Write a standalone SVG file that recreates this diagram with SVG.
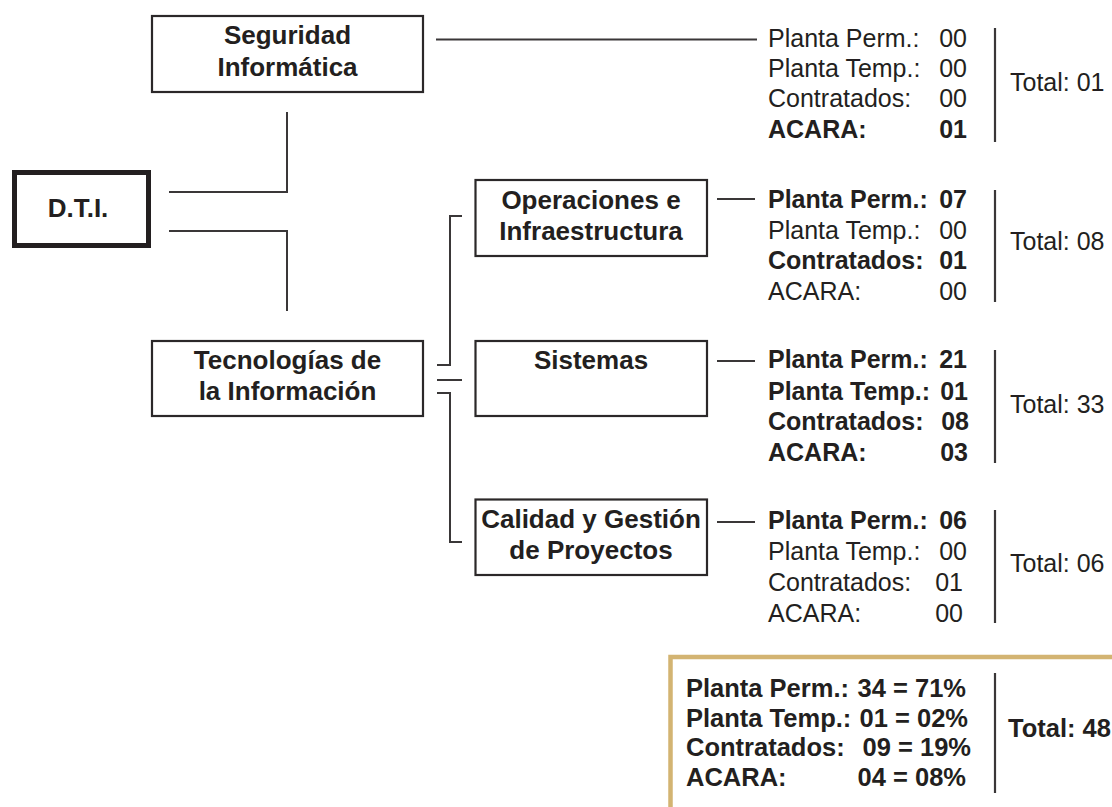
<svg xmlns="http://www.w3.org/2000/svg" width="1112" height="807" viewBox="0 0 1112 807">
<style>
.box{fill:#fff;stroke:#2b2829;stroke-width:2.2}
.ln{fill:none;stroke:#3a3738;stroke-width:2}
.bar{stroke:#3a3738;stroke-width:2.2}
.bt{font-family:"Liberation Sans",Arial,sans-serif;font-weight:bold;font-size:26px;fill:#231f20;text-anchor:middle}
.st{font-family:"Liberation Sans",Arial,sans-serif;font-size:25px;fill:#231f20}
.sm{font-size:25.5px}
.b{font-weight:bold}
.num{text-anchor:end}
</style>
<rect width="1112" height="807" fill="#fff"/>
<g id="connectors">
<line class="ln" x1="436" y1="39.5" x2="757" y2="39.5"/>
<polyline class="ln" points="169,192 287,192 287,112"/>
<polyline class="ln" points="169,231 287,231 287,311"/>
<polyline class="ln" points="437,365 450,365 450,216 462,216"/>
<line class="ln" x1="437" y1="380" x2="462" y2="380"/>
<polyline class="ln" points="437,393 450,393 450,542 462,542"/>
<line class="ln" x1="717" y1="199" x2="755" y2="199"/>
<line class="ln" x1="717" y1="361" x2="755" y2="361"/>
<line class="ln" x1="717" y1="522" x2="755" y2="522"/>
</g>
<g id="dti">
<rect x="14.5" y="172.5" width="134" height="73" fill="#fff" stroke="#231f20" stroke-width="5"/>
<text class="bt" x="78" y="217" font-size="27">D.T.I.</text>
</g>
<g id="seguridad">
<rect class="box" x="152" y="16" width="271" height="76"/>
<text class="bt" x="287.5" y="44">Seguridad</text>
<text class="bt" x="287.5" y="76">Informática</text>
</g>
<g id="tecnologias">
<rect class="box" x="152" y="341" width="271" height="75"/>
<text class="bt" x="287.5" y="369">Tecnologías de</text>
<text class="bt" x="287.5" y="400">la Información</text>
</g>
<g id="operaciones">
<rect class="box" x="475.5" y="180" width="231.5" height="76"/>
<text class="bt" x="591" y="209">Operaciones e</text>
<text class="bt" x="591" y="240">Infraestructura</text>
</g>
<g id="sistemas">
<rect class="box" x="475.5" y="341" width="231.5" height="75"/>
<text class="bt" x="591" y="369">Sistemas</text>
</g>
<g id="calidad">
<rect class="box" x="475.5" y="499.5" width="231.5" height="75.5"/>
<text class="bt" x="591" y="528">Calidad y Gestión</text>
<text class="bt" x="591" y="559">de Proyectos</text>
</g>
<g id="stats-seguridad">
<text class="st" x="768" y="47">Planta Perm.:</text><text class="st num" x="967" y="47">00</text>
<text class="st" x="768" y="77">Planta Temp.:</text><text class="st num" x="967" y="77">00</text>
<text class="st" x="768" y="107">Contratados:</text><text class="st num" x="967" y="107">00</text>
<text class="st b" x="768" y="138">ACARA:</text><text class="st b num" x="967" y="138">01</text>
<line class="bar" x1="995" y1="28" x2="995" y2="142"/>
<text class="st" x="1010" y="91">Total: 01</text>
</g>
<g id="stats-operaciones">
<text class="st b" x="768" y="208">Planta Perm.:</text><text class="st b num" x="967" y="208">07</text>
<text class="st" x="768" y="239">Planta Temp.:</text><text class="st num" x="967" y="239">00</text>
<text class="st b" x="768" y="269">Contratados:</text><text class="st b num" x="967" y="269">01</text>
<text class="st" x="768" y="300">ACARA:</text><text class="st num" x="967" y="300">00</text>
<line class="bar" x1="995" y1="190" x2="995" y2="302"/>
<text class="st" x="1010" y="250">Total: 08</text>
</g>
<g id="stats-sistemas">
<text class="st b" x="768" y="368">Planta Perm.:</text><text class="st b num" x="967" y="368">21</text>
<text class="st b" x="768" y="400">Planta Temp.:</text><text class="st b num" x="968" y="400">01</text>
<text class="st b" x="768" y="430">Contratados:</text><text class="st b num" x="969" y="430">08</text>
<text class="st b" x="768" y="461">ACARA:</text><text class="st b num" x="968" y="461">03</text>
<line class="bar" x1="995" y1="350" x2="995" y2="463"/>
<text class="st" x="1010" y="413">Total: 33</text>
</g>
<g id="stats-calidad">
<text class="st b" x="768" y="529">Planta Perm.:</text><text class="st b num" x="967" y="529">06</text>
<text class="st" x="768" y="560">Planta Temp.:</text><text class="st num" x="967" y="560">00</text>
<text class="st" x="768" y="591">Contratados:</text><text class="st num" x="963" y="591">01</text>
<text class="st" x="768" y="622">ACARA:</text><text class="st num" x="963" y="622">00</text>
<line class="bar" x1="995" y1="510" x2="995" y2="623"/>
<text class="st" x="1010" y="572">Total: 06</text>
</g>
<g id="resumen">
<rect x="670.5" y="657" width="470" height="200" fill="#fff" stroke="#d3b472" stroke-width="4.5"/>
<text class="st sm b" x="686" y="697">Planta Perm.:</text><text class="st sm b num" x="966" y="697">34 = 71%</text>
<text class="st sm b" x="686" y="727">Planta Temp.:</text><text class="st sm b num" x="968" y="727">01 = 02%</text>
<text class="st sm b" x="686" y="756">Contratados:</text><text class="st sm b num" x="971" y="756">09 = 19%</text>
<text class="st sm b" x="686" y="786">ACARA:</text><text class="st sm b num" x="966" y="786">04 = 08%</text>
<line class="bar" x1="995" y1="673" x2="995" y2="793"/>
<text class="st sm b" x="1008" y="737">Total: 48</text>
</g>
</svg>
